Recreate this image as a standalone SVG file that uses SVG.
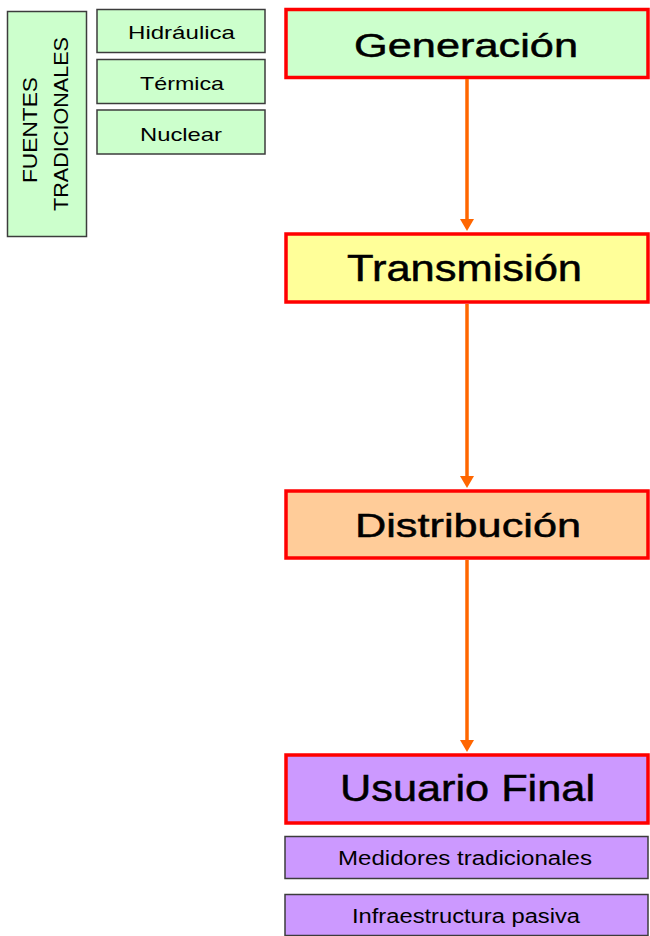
<svg xmlns="http://www.w3.org/2000/svg" width="650" height="936" viewBox="0 0 650 936">
<style>
.main{stroke:#FF0000;stroke-width:3.5}
.sub{stroke:#3C3C3C;stroke-width:1.5}
.t{font-family:"Liberation Sans",Arial,sans-serif;fill:#000;text-anchor:middle}
.big{stroke:#000;stroke-width:0.5}
.g{fill:#CCFFCC}
.y{fill:#FFFF99}
.o{fill:#FFCC99}
.p{fill:#CC99FF}
.conn line{stroke:#FF6600;stroke-width:3.5}
.conn polygon{fill:#FF6600}
</style>
<rect width="650" height="936" fill="#FFFFFF"/>
<g id="fuentes">
<rect class="g sub" x="7.5" y="11.5" width="79" height="225"/>
<text class="t" font-size="20" transform="translate(37,130) rotate(-90)" textLength="106" lengthAdjust="spacingAndGlyphs">FUENTES</text>
<text class="t" font-size="20" transform="translate(68,124) rotate(-90)" textLength="174" lengthAdjust="spacingAndGlyphs">TRADICIONALES</text>
</g>
<g id="hidraulica">
<rect class="g sub" x="97" y="9.5" width="168" height="43"/>
<text class="t" x="181.5" y="39" font-size="19" textLength="107" lengthAdjust="spacingAndGlyphs">Hidráulica</text>
</g>
<g id="termica">
<rect class="g sub" x="97" y="59.5" width="168" height="44"/>
<text class="t" x="182" y="90" font-size="19" textLength="84" lengthAdjust="spacingAndGlyphs">Térmica</text>
</g>
<g id="nuclear">
<rect class="g sub" x="97" y="110" width="168" height="44"/>
<text class="t" x="181" y="141" font-size="19" textLength="82" lengthAdjust="spacingAndGlyphs">Nuclear</text>
</g>
<g id="generacion">
<rect class="g main" x="286" y="9.5" width="362" height="68"/>
<text class="t big" x="466" y="56.5" font-size="33.5" textLength="224" lengthAdjust="spacingAndGlyphs">Generación</text>
</g>
<g id="transmision">
<rect class="y main" x="286" y="234" width="362" height="68"/>
<text class="t big" x="464.5" y="281" font-size="36" textLength="235" lengthAdjust="spacingAndGlyphs">Transmisión</text>
</g>
<g id="distribucion">
<rect class="o main" x="286" y="491" width="362" height="67"/>
<text class="t big" x="468" y="537" font-size="34" textLength="226" lengthAdjust="spacingAndGlyphs">Distribución</text>
</g>
<g id="usuario">
<rect class="p main" x="286" y="755" width="362" height="68"/>
<text class="t big" x="467.5" y="801" font-size="37.5" textLength="255" lengthAdjust="spacingAndGlyphs">Usuario Final</text>
</g>
<g id="medidores">
<rect class="p sub" x="285" y="836.5" width="363" height="42"/>
<text class="t" x="465" y="865" font-size="20" textLength="254" lengthAdjust="spacingAndGlyphs">Medidores tradicionales</text>
</g>
<g id="infraestructura">
<rect class="p sub" x="285" y="894.5" width="363" height="41"/>
<text class="t" x="466" y="923" font-size="20" textLength="228" lengthAdjust="spacingAndGlyphs">Infraestructura pasiva</text>
</g>
<g id="connectors" class="conn">
<line x1="467" y1="79" x2="467" y2="220"/>
<polygon points="460,219 474,219 467,231"/>
<line x1="467" y1="304" x2="467" y2="477"/>
<polygon points="460,476 474,476 467,488"/>
<line x1="467" y1="560" x2="467" y2="741"/>
<polygon points="460,740 474,740 467,752"/>
</g>
</svg>
